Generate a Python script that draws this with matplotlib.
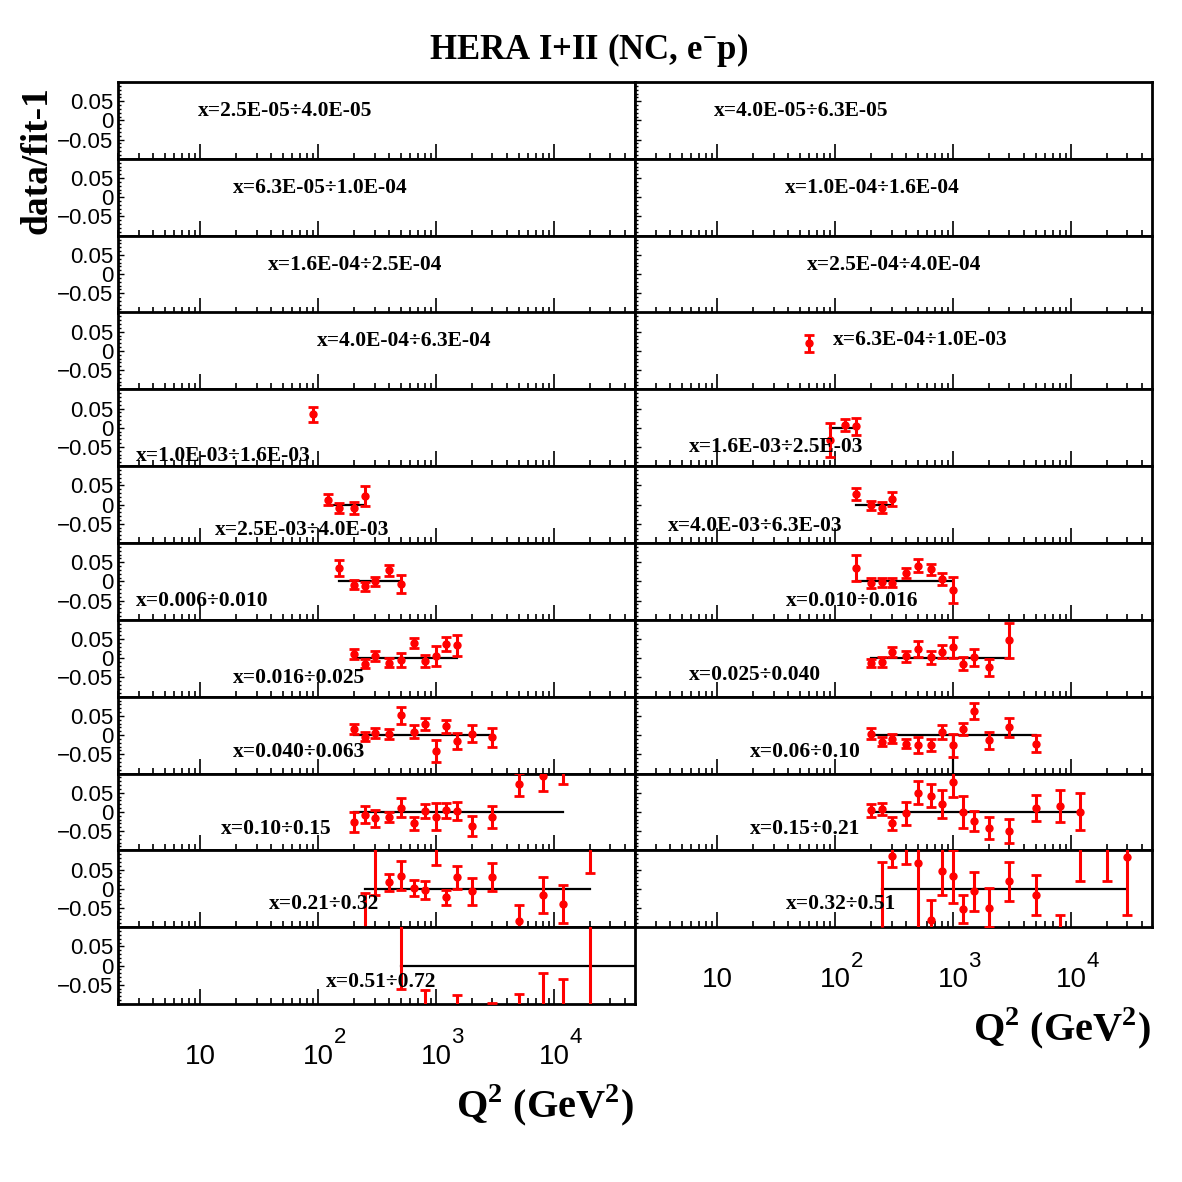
import numpy as np
import matplotlib
matplotlib.use("Agg")
import matplotlib.pyplot as plt
from matplotlib.ticker import FixedLocator, LogLocator, MultipleLocator, NullFormatter
from matplotlib.transforms import blended_transform_factory

plt.rcParams['mathtext.fontset'] = 'custom'
plt.rcParams['mathtext.bf'] = 'Liberation Serif:bold'
plt.rcParams['mathtext.rm'] = 'Liberation Serif:bold'

# x bins: even index -> left column, odd index -> right column
bin_labels = [
    "x=2.5E-05\u00f74.0E-05", "x=4.0E-05\u00f76.3E-05",
    "x=6.3E-05\u00f71.0E-04", "x=1.0E-04\u00f71.6E-04",
    "x=1.6E-04\u00f72.5E-04", "x=2.5E-04\u00f74.0E-04",
    "x=4.0E-04\u00f76.3E-04", "x=6.3E-04\u00f71.0E-03",
    "x=1.0E-03\u00f71.6E-03", "x=1.6E-03\u00f72.5E-03",
    "x=2.5E-03\u00f74.0E-03", "x=4.0E-03\u00f76.3E-03",
    "x=0.006\u00f70.010", "x=0.010\u00f70.016",
    "x=0.016\u00f70.025", "x=0.025\u00f70.040",
    "x=0.040\u00f70.063", "x=0.06\u00f70.10",
    "x=0.10\u00f70.15", "x=0.15\u00f70.21",
    "x=0.21\u00f70.32", "x=0.32\u00f70.51",
    "x=0.51\u00f70.72",
]

q2_points = [
    [], [], [], [], [], [], [],
    [60],
    [90],
    [90, 120, 150],
    [120, 150, 200, 250],
    [150, 200, 250, 300],
    [150, 200, 250, 300, 400, 500],
    [150, 200, 250, 300, 400, 500, 650, 800, 1000],
    [200, 250, 300, 400, 500, 650, 800, 1000, 1200, 1500],
    [200, 250, 300, 400, 500, 650, 800, 1000, 1200, 1500, 2000, 3000],
    [200, 250, 300, 400, 500, 650, 800, 1000, 1200, 1500, 2000, 3000],
    [200, 250, 300, 400, 500, 650, 800, 1000, 1200, 1500, 2000, 3000, 5000],
    [200, 250, 300, 400, 500, 650, 800, 1000, 1200, 1500, 2000, 3000, 5000, 8000, 12000],
    [200, 250, 300, 400, 500, 650, 800, 1000, 1200, 1500, 2000, 3000, 5000, 8000, 12000],
    [250, 300, 400, 500, 650, 800, 1000, 1200, 1500, 2000, 3000, 5000, 8000, 12000, 20000],
    [250, 300, 400, 500, 650, 800, 1000, 1200, 1500, 2000, 3000, 5000, 8000, 12000, 20000, 30000],
    [500, 800, 1500, 3000, 5000, 8000, 12000, 20000],
]

ratio_points = [
    [], [], [], [], [], [], [],
    [0.020],
    [0.035],
    [-0.032, 0.007, 0.004],
    [0.013, -0.008, -0.008, 0.023],
    [0.027, -0.002, -0.008, 0.015],
    [0.035, -0.009, -0.013, 0.000, 0.029, -0.007],
    [0.035, -0.004, -0.002, -0.003, 0.022, 0.041, 0.032, 0.006, -0.022],
    [0.012, -0.014, 0.005, -0.012, -0.005, 0.040, -0.008, 0.005, 0.037, 0.034],
    [-0.012, -0.010, 0.017, 0.005, 0.024, 0.002, 0.017, 0.028, -0.014, 0.003, -0.024, 0.047],
    [0.016, -0.004, 0.006, 0.004, 0.052, 0.009, 0.028, -0.041, 0.023, -0.015, 0.004, -0.006],
    [0.004, -0.017, -0.009, -0.022, -0.026, -0.026, 0.009, -0.026, 0.016, 0.063, -0.013, 0.020, -0.022],
    [-0.026, -0.007, -0.016, -0.013, 0.011, -0.030, 0.003, -0.013, 0.004, 0.003, -0.037, -0.013, 0.072, 0.094, 0.130],
    [0.004, 0.007, -0.030, -0.004, 0.050, 0.042, 0.020, 0.078, 0.000, -0.023, -0.042, -0.050, 0.010, 0.015, 0.000],
    [-0.110, 0.110, 0.017, 0.034, 0.002, -0.003, 0.120, -0.022, 0.030, -0.007, 0.030, -0.083, -0.016, -0.039, 0.120],
    [-0.110, 0.086, 0.110, 0.067, -0.081, 0.047, 0.032, -0.053, -0.007, -0.049, 0.019, -0.016, -0.130, 0.120, 0.120, 0.082],
    [0.120, -0.150, -0.150, -0.150, -0.150, -0.130, -0.140, -0.300],
]

ratio_errors = [
    [], [], [], [], [], [], [],
    [0.022],
    [0.019],
    [0.045, 0.016, 0.022],
    [0.015, 0.013, 0.016, 0.026],
    [0.015, 0.011, 0.014, 0.019],
    [0.021, 0.012, 0.012, 0.012, 0.015, 0.023],
    [0.035, 0.012, 0.012, 0.012, 0.013, 0.017, 0.014, 0.016, 0.033],
    [0.013, 0.011, 0.013, 0.012, 0.019, 0.013, 0.016, 0.026, 0.018, 0.027],
    [0.011, 0.012, 0.013, 0.014, 0.020, 0.016, 0.017, 0.027, 0.017, 0.022, 0.023, 0.046],
    [0.013, 0.011, 0.013, 0.013, 0.022, 0.016, 0.016, 0.028, 0.017, 0.020, 0.023, 0.025],
    [0.014, 0.011, 0.012, 0.012, 0.020, 0.016, 0.018, 0.030, 0.016, 0.020, 0.022, 0.025, 0.023],
    [0.027, 0.022, 0.022, 0.014, 0.025, 0.017, 0.018, 0.035, 0.020, 0.024, 0.026, 0.028, 0.030, 0.040, 0.058],
    [0.017, 0.016, 0.016, 0.031, 0.030, 0.030, 0.036, 0.040, 0.041, 0.026, 0.029, 0.031, 0.033, 0.042, 0.048],
    [0.100, 0.125, 0.022, 0.037, 0.022, 0.024, 0.057, 0.020, 0.030, 0.034, 0.037, 0.041, 0.047, 0.050, 0.080],
    [0.180, 0.030, 0.046, 0.180, 0.052, 0.063, 0.068, 0.037, 0.050, 0.050, 0.050, 0.053, 0.062, 0.100, 0.100, 0.150],
    [0.180, 0.087, 0.073, 0.053, 0.076, 0.110, 0.105, 0.450],
]

# Q2 range of the fit line (ratio = 0) in each bin
fit_from = [None] * 9 + [90, 120, 150, 150, 150, 200, 200, 200, 200, 200, 200, 250, 250, 500]
fit_to = [None] * 9 + [150, 250, 300, 500, 1000, 1500, 3000, 3000, 5000, 12000, 12000, 20000, 30000, 50000]
fit_drop_bin = 17
fit_drop_q2 = 1000

decades = [10, 100, 1000, 10000]
decade_exps = ["", "2", "3", "4"]

# label placement inside each panel (axes fraction)
label_x = [0.155, 0.153, 0.222, 0.290, 0.290, 0.333, 0.384, 0.383, 0.035, 0.104, 0.188, 0.064,
           0.035, 0.292, 0.222, 0.104, 0.222, 0.222, 0.199, 0.222, 0.292, 0.292, 0.402]
label_y = [0.62, 0.62, 0.62, 0.62, 0.62, 0.62, 0.627, 0.64, 0.132, 0.252, 0.167, 0.224,
           0.248, 0.248, 0.246, 0.276, 0.283, 0.283, 0.283, 0.283, 0.298, 0.298, 0.283]

W = H = 1182.0
fig = plt.figure(figsize=(11.82, 11.82), dpi=100)
top0, bot0 = 82.0, 1004.0
row_h = (bot0 - top0) / 12
col_x = [118.0, 635.0]
col_w = 517.0
serif = dict(family='Liberation Serif', weight='bold')

for i, lab in enumerate(bin_labels):
    col, row = i % 2, i // 2
    top = top0 + row * row_h
    ax = fig.add_axes([col_x[col] / W, 1 - (top + row_h) / H, col_w / W, row_h / H])
    ax.set_xscale('log')
    ax.set_xlim(2, 4.85e4)
    ax.set_ylim(-0.1, 0.1)
    ax.xaxis.set_major_locator(FixedLocator(decades))
    ax.xaxis.set_minor_locator(LogLocator(base=10, subs=np.arange(2, 10), numticks=30))
    ax.xaxis.set_major_formatter(NullFormatter())
    ax.xaxis.set_minor_formatter(NullFormatter())
    ax.tick_params(axis='x', which='both', direction='in', bottom=True, top=False, labelbottom=False)
    ax.tick_params(axis='x', which='major', length=11, width=1.2)
    ax.tick_params(axis='x', which='minor', length=4.5, width=1.2)
    ax.yaxis.set_major_locator(FixedLocator([-0.05, 0, 0.05]))
    ax.yaxis.set_minor_locator(MultipleLocator(0.01))
    ax.tick_params(axis='y', which='both', direction='in', left=True, right=False)
    ax.tick_params(axis='y', which='major', length=4, width=1)
    ax.tick_params(axis='y', which='minor', length=2, width=1)
    if col == 0:
        ax.set_yticklabels(['\u22120.05', '0', '0.05'], fontsize=16, family='Liberation Sans')
        ax.tick_params(axis='y', pad=3.5)
    else:
        ax.set_yticklabels([])
    for s in ax.spines.values():
        s.set_linewidth(2)

    if fit_from[i] is not None:
        ax.plot([fit_from[i], fit_to[i]], [0, 0], color='black', lw=1.6, zorder=2)
    if i == fit_drop_bin:
        ax.plot([fit_drop_q2, fit_drop_q2], [0, -0.1], color='black', lw=1.6, zorder=2)
    if q2_points[i]:
        ax.errorbar(q2_points[i], ratio_points[i], yerr=ratio_errors[i], fmt='o', color='red',
                    ms=5, elinewidth=2.2, capsize=3.5, capthick=2, zorder=3)
    ax.text(label_x[i], label_y[i], lab, transform=ax.transAxes, ha='left', va='center',
            fontsize=15.5, zorder=5, **serif)

    # bottom panel of each column carries the Q2 axis labels
    if (col == 0 and row == 11) or (col == 1 and row == 10):
        tr = blended_transform_factory(ax.transData, ax.transAxes)
        for d, e in zip(decades, decade_exps):
            ax.annotate('10', xy=(d, -0.775), xycoords=tr, ha='center', va='baseline',
                        fontsize=20, family='Liberation Sans', annotation_clip=False)
            if e:
                ax.annotate(e, xy=(d, -0.775), xycoords=tr, xytext=(11, 14.5),
                            textcoords='offset points', ha='left', va='baseline',
                            fontsize=16, family='Liberation Sans', annotation_clip=False)
        bottom_px = top + row_h
        right_px = col_x[col] + col_w - 1
        fig.text(right_px / W, 1 - (bottom_px + 113) / H, r'Q$^{\mathbf{2}}$ (GeV$^{\mathbf{2}}$)',
                 ha='right', va='baseline', fontsize=29, **serif)

fig.text(589 / W, 1 - 50 / H, r'HERA I+II (NC, e$^{\mathbf{-}}$p)', ha='center', va='center',
         fontsize=25, **serif)
fig.text(37 / W, 1 - 160 / H, 'data/fit-1', rotation=90, ha='center', va='center',
         fontsize=27, **serif)

fig.savefig('out.png', dpi=100)
